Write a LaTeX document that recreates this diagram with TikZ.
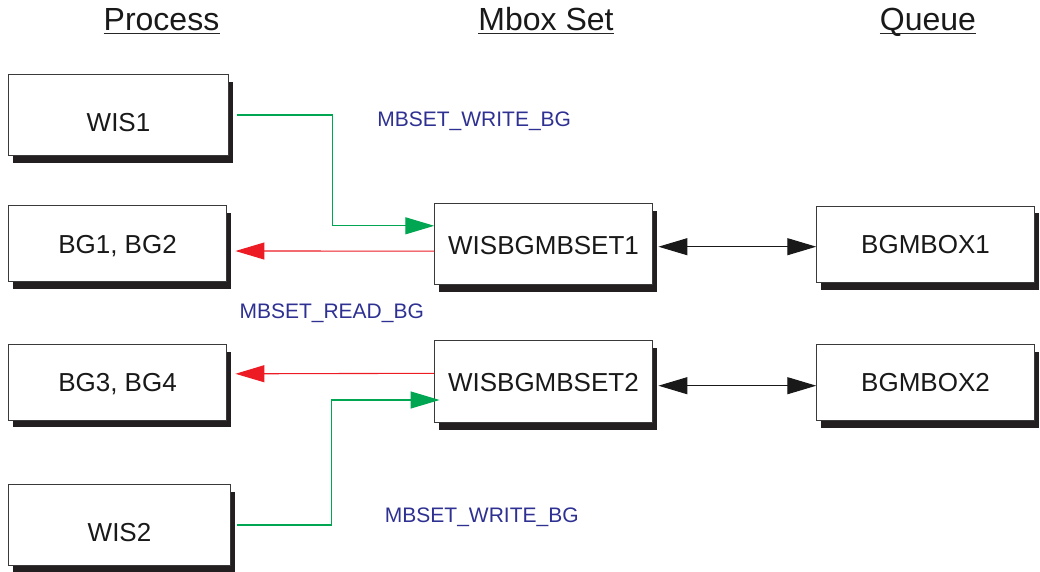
\documentclass[tikz,border=0pt]{standalone}
\usepackage{fontspec}
\setmainfont{Liberation Sans}
\usetikzlibrary{arrows.meta,shadows}

\definecolor{flowgreen}{HTML}{00A651}
\definecolor{flowred}{HTML}{ED1C24}
\definecolor{labelblue}{HTML}{2E3192}
\definecolor{shadowgray}{HTML}{231F20}
\definecolor{boxline}{HTML}{3A3A3A}

\begin{document}
\begin{tikzpicture}[x=1pt,y=-1pt,
  procbox/.style={draw=boxline, line width=0.9pt, fill=white, inner sep=0pt,
    font=\fontsize{26}{30}\selectfont, text=black!90,
    text height=19pt, text depth=0pt,
    drop shadow={shadow xshift=4.6pt, shadow yshift=-7.4pt,
      fill=shadowgray, opacity=1}},
  lowtext/.style={text height=32pt},
  heading/.style={anchor=base, inner sep=0pt, text=black!90,
    font=\fontsize{32}{36}\selectfont},
  underl/.style={line width=1.4pt, black!85},
  msglabel/.style={anchor=base, inner sep=0pt, text=labelblue,
    font=\fontsize{21}{24}\selectfont},
  tip/.style={-{Triangle[length=29pt,width=17pt]}},
  writeflow/.style={tip, draw=flowgreen, line width=1.2pt},
  readflow/.style={tip, draw=flowred, line width=1.1pt},
  link/.style={{Triangle[length=29pt,width=17pt]}-{Triangle[length=29pt,width=17pt]},
    draw=black!90, line width=1.1pt}
]
\useasboundingbox (0,0) rectangle (1040,571);

% column headings
\node[heading] (hproc) at (161.5,30) {Process};
\node[heading] (hmbox) at (546,30) {Mbox Set};
\node[heading] (hqueue) at (928,30) {Queue};
\foreach \h in {hproc,hmbox,hqueue}
  \draw[underl] ([yshift=-3.6pt]\h.base west) -- ([yshift=-3.6pt]\h.base east);

% processes
\node[procbox, lowtext, minimum width=220.4pt, minimum height=81.4pt] (wis1) at (118.5,115) {WIS1};
\node[procbox, minimum width=218.4pt, minimum height=76pt] (bg12) at (117.5,243.7) {BG1, BG2};
\node[procbox, minimum width=218.4pt, minimum height=75.7pt] (bg34) at (117.5,382.2) {BG3, BG4};
\node[procbox, lowtext, minimum width=222.4pt, minimum height=81.4pt] (wis2) at (119.5,525) {WIS2};

% mbox sets
\node[procbox, text height=21pt, minimum width=217.6pt, minimum height=81pt] (set1) at (543.5,243.8) {WISBGMBSET1};
\node[procbox, text height=20pt, minimum width=217.8pt, minimum height=82pt] (set2) at (543.4,381.7) {WISBGMBSET2};

% queues
\node[procbox, minimum width=217.6pt, minimum height=76.3pt] (q1) at (925.5,244.2) {BGMBOX1};
\node[procbox, minimum width=217.6pt, minimum height=76pt] (q2) at (925.5,382.3) {BGMBOX2};

% message flows
\draw[writeflow] ([xshift=7.5pt]wis1.east) -- ++(96,0) |- ([yshift=18pt]set1.west);
\draw[readflow] ([yshift=-7.3pt]set1.west) -- ([xshift=8.3pt,yshift=-7.3pt]bg12.east);
\draw[readflow] ([yshift=8.4pt]set2.west) -- ([xshift=8.3pt,yshift=8.4pt]bg34.east);
\draw[writeflow] ([xshift=6pt]wis2.east) -- ++(94,0) |- ([xshift=5.5pt,yshift=-18.3pt]set2.west);

% set <-> queue links
\draw[link] ([xshift=5.7pt,yshift=-2.9pt]set1.east) -- ([yshift=-2.5pt]q1.west);
\draw[link] ([xshift=5.7pt,yshift=-4pt]set2.east) -- ([yshift=-3.4pt]q2.west);

% message labels
\node[msglabel] (lw1) at (474.2,126.5) {MBSET\_WRITE\_BG};
\node[msglabel] (lr1) at (331.7,318) {MBSET\_READ\_BG};
\node[msglabel] (lw2) at (481.8,522.7) {MBSET\_WRITE\_BG};
\end{tikzpicture}
\end{document}
